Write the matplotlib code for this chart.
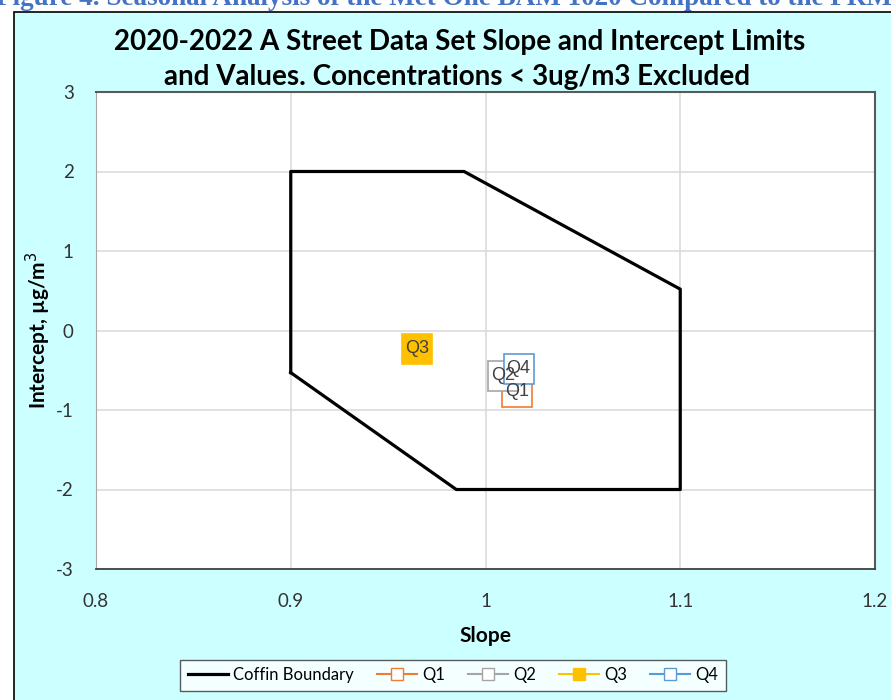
import matplotlib
matplotlib.use("Agg")
import matplotlib.pyplot as plt
from matplotlib.patches import Rectangle

# coffin boundary (slope, intercept)
coffin_slope = [0.9, 0.9, 0.989, 1.1, 1.1, 0.985, 0.9]
coffin_icpt = [-0.53, 2.0, 2.0, 0.52, -2.0, -2.0, -0.53]

# seasonal results
quarters = ["Q1", "Q2", "Q3", "Q4"]
q_slope = [1.016, 1.009, 0.965, 1.017]
q_icpt = [-0.77, -0.57, -0.23, -0.48]
q_edge = ["#ED7D31", "#A5A5A5", "#FFC000", "#5B9BD5"]
q_face = ["white", "white", "#FFC000", "white"]

x_ticks = [0.8, 0.9, 1.0, 1.1, 1.2]
x_labels = ["0.8", "0.9", "1", "1.1", "1.2"]
y_ticks = [-3, -2, -1, 0, 1, 2, 3]

plt.rcParams['axes.unicode_minus'] = False

W, H = 891, 700
fig = plt.figure(figsize=(W / 100, H / 100), dpi=100)
fig.patch.set_facecolor("white")

# chart background panel (cyan, with black frame at left/top)
fig.patches.append(Rectangle((14 / W, -0.05), 1.0, 1 - 12 / H + 0.05,
                             transform=fig.transFigure, facecolor="#CCFFFF",
                             edgecolor="black", linewidth=1.2, zorder=-5))

# clipped caption from the document above the chart
fig.text(-0.004, 1 - 5 / H,
         "Figure 4. Seasonal Analysis of the Met One BAM 1020 Compared to the FRM",
         family="Liberation Serif", fontweight="bold", fontsize=19.5,
         color="#4472C4", ha="left", va="baseline", zorder=-4)

ax = fig.add_axes([96 / W, 1 - 569 / H, (875 - 96) / W, (569 - 92) / H])
ax.set_facecolor("white")

ax.plot(coffin_slope, coffin_icpt, color="black", linewidth=2.3,
        label="Coffin Boundary", zorder=3)

for name, sx, iy, ec, fc in zip(quarters, q_slope, q_icpt, q_edge, q_face):
    ax.plot([sx], [iy], marker="s", markersize=21, markerfacecolor=fc,
            markeredgecolor=ec, markeredgewidth=1.2, linestyle="none", zorder=4)
    ax.text(sx, iy, name, ha="center", va="center", fontsize=13,
            family="Liberation Sans", color="#404040", zorder=5)

ax.set_xlim(0.8, 1.2)
ax.set_ylim(-3, 3)
ax.set_xticks(x_ticks)
ax.set_xticklabels(x_labels)
ax.set_yticks(y_ticks)
ax.tick_params(axis="x", length=0, labelsize=13.5, colors="#333333", pad=17)
ax.tick_params(axis="y", length=0, labelsize=13.5, colors="#333333", pad=16)
for lab in ax.get_xticklabels() + ax.get_yticklabels():
    lab.set_family("Lato")
ax.grid(True, color="#D9D9D9", linewidth=1.1)
ax.set_axisbelow(True)
for side in ["top", "right"]:
    ax.spines[side].set_color("#595959")
    ax.spines[side].set_linewidth(1.5)
ax.spines["left"].set_color("#A6A6A6")
ax.spines["bottom"].set_color("#404040")
ax.spines["bottom"].set_linewidth(1.3)

ax.set_xlabel("Slope", family="Lato", fontweight="bold", fontsize=15, labelpad=12)
ax.set_ylabel("Intercept, µg/m$^3$", family="Lato", fontweight="bold",
              fontsize=15, labelpad=2)

fig.text(460 / W, 1 - 42 / H, "2020-2022 A Street Data Set Slope and Intercept Limits",
         family="Lato", fontweight="bold", fontsize=20, ha="center", va="center")
fig.text(457 / W, 1 - 77 / H, "and Values. Concentrations < 3ug/m3 Excluded",
         family="Lato", fontweight="bold", fontsize=20, ha="center", va="center")

# legend entries
handles = [plt.Line2D([], [], color="black", linewidth=2.3)]
for ec, fc in zip(q_edge, q_face):
    handles.append(plt.Line2D([], [], color=ec, linewidth=1.5, marker="s",
                              markersize=8, markerfacecolor=fc, markeredgecolor=ec))
leg = fig.legend(handles, ["Coffin Boundary"] + quarters, loc="center",
                 bbox_to_anchor=(453 / W, 1 - 675 / H), ncol=5, frameon=True,
                 fancybox=False, edgecolor="#333333", facecolor="white",
                 prop={"family": "Lato", "size": 12}, handlelength=2.4,
                 handletextpad=0.3, columnspacing=1.4, borderpad=0.45)
leg.get_frame().set_linewidth(1.0)

fig.savefig("out.png", dpi=100)
